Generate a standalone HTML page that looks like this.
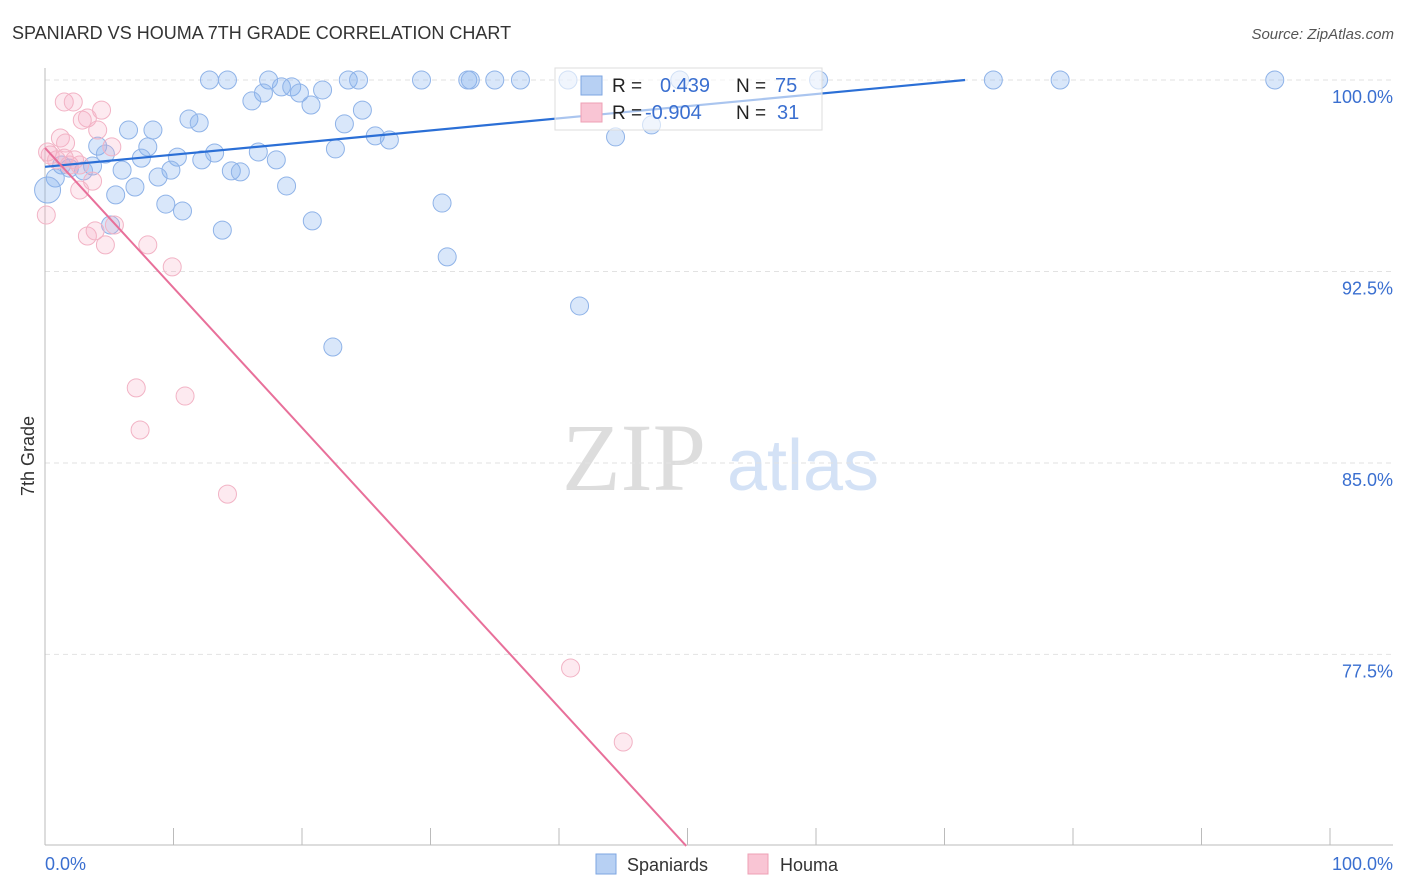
<!DOCTYPE html>
<html><head><meta charset="utf-8"><style>
body{margin:0;background:#fff;font-family:"Liberation Sans",sans-serif}
svg{display:block}
</style></head><body>
<svg id="c" width="1406" height="892">
<text x="12" y="39" font-size="18" fill="#333">SPANIARD VS HOUMA 7TH GRADE CORRELATION CHART</text>
<text x="1394" y="39" font-size="15" fill="#555" text-anchor="end" font-style="italic">Source: ZipAtlas.com</text>
<text x="634" y="490" font-size="96" fill="#ddd" text-anchor="middle" font-family="Liberation Serif,serif">ZIP</text>
<text x="803" y="490" font-size="72" fill="#d4e2f6" text-anchor="middle">atlas</text>
<text transform="translate(34,456) rotate(-90)" font-size="18" fill="#333" text-anchor="middle">7th Grade</text>
<g id="grid"></g><g id="pts"></g><g id="lines"></g>
<g>
<rect x="555" y="68" width="267" height="62" fill="#fff" fill-opacity="0.6" stroke="#ddd"/>
<rect x="581" y="76" width="21" height="19" fill="#b7d0f3" stroke="#7ea6e2"/>
<rect x="581" y="103" width="21" height="19" fill="#f9c5d4" stroke="#eea0b5"/>
<text x="612" y="92" font-size="19" fill="#222">R =</text><text x="660" y="92" font-size="20" fill="#3a6fd0">0.439</text>
<text x="736" y="92" font-size="19" fill="#222">N =</text><text x="775" y="92" font-size="20" fill="#3a6fd0">75</text>
<text x="612" y="119" font-size="19" fill="#222">R =</text><text x="645" y="119" font-size="20" fill="#3a6fd0">-0.904</text>
<text x="736" y="119" font-size="19" fill="#222">N =</text><text x="777" y="119" font-size="20" fill="#3a6fd0">31</text>
</g>
<g>
<rect x="596" y="854" width="20" height="20" fill="#b7d0f3" stroke="#7ea6e2"/>
<text x="627" y="871" font-size="18" fill="#333">Spaniards</text>
<rect x="748" y="854" width="20" height="20" fill="#f9c5d4" stroke="#eea0b5"/>
<text x="780" y="871" font-size="18" fill="#333">Houma</text>
</g>
</svg>
<script>
const blueX=[12.8,14.2,17.4,23.6,24.4,29.3,32.9,33.1,35.0,37.0,40.7,49.4,60.2,73.8,79.0,95.7,18.4,19.2,17.0,19.8,21.6,16.1,20.7,24.7,11.2,12.0,23.3,6.5,8.4,25.7,26.8,44.4,47.2,4.1,8.0,22.6,13.2,16.6,4.7,7.5,10.3,12.2,18.0,6.0,9.8,14.5,15.2,3.7,3.0,1.9,1.3,0.8,8.8,7.0,18.8,5.5,0.2,9.4,10.7,30.9,20.8,5.1,13.8,31.3,41.6,22.4];
const blueY=[100,100,100,100,100,100,100,100,100,100,100,100,100,100,100,100,99.73,99.73,99.49,99.49,99.61,99.18,99.02,98.82,98.47,98.32,98.28,98.04,98.04,97.81,97.65,97.77,98.24,97.41,97.38,97.30,97.14,97.18,97.10,96.94,96.98,96.87,96.87,96.47,96.47,96.44,96.40,96.63,96.44,96.55,96.67,96.16,96.20,95.81,95.85,95.50,95.69,95.14,94.87,95.18,94.48,94.32,94.12,93.07,91.15,89.54];
const pinkX=[1.5,2.2,4.4,2.9,3.3,4.1,1.2,5.2,1.6,0.4,0.2,0.9,1.9,2.7,3.7,2.7,0.1,3.3,3.9,5.4,4.7,8.0,9.9,7.1,10.9,7.4,14.2,40.9,45.0,2.3,1.5];
const pinkY=[99.14,99.14,98.82,98.43,98.51,98.04,97.73,97.38,97.53,97.06,97.18,96.87,96.67,96.67,96.04,95.69,94.71,93.89,94.09,94.32,93.54,93.54,92.68,87.94,87.62,86.29,83.78,76.97,74.07,96.87,96.94];
const blueTrendX=[0,71.6], blueTrendY=[96.6,100];
const pinkTrendX=[0,49.9], pinkTrendY=[97.34,70];
const yTicks=[100,92.5,85,77.5], yTickLabels=["100.0%","92.5%","85.0%","77.5%"];
const sx=v=>45+v*12.85, sy=v=>80+(100-v)*25.53;
const NS="http://www.w3.org/2000/svg";
function mk(t,a,p){const e=document.createElementNS(NS,t);for(const k in a)e.setAttribute(k,a[k]);p.appendChild(e);return e;}
const g=document.getElementById('grid'),pts=document.getElementById('pts'),ln=document.getElementById('lines');
yTicks.forEach((v,i)=>{
 const l=mk('line',{x1:45,x2:1393,y1:sy(v),y2:sy(v),stroke:'#e2e2e2','stroke-dasharray':'5,4'},g);
 
 
 const t=mk('text',{x:1393,y:sy(v)+23,'font-size':18,fill:'#3a6fd0','text-anchor':'end'},g);t.textContent=yTickLabels[i];
 
 
});
const ax=mk('line',{x1:45,x2:45,y1:68,y2:845,stroke:'#bbb'},g);


const bx=mk('line',{x1:45,x2:1393,y1:845,y2:845,stroke:'#bbb'},g);


for(let i=0;i<=10;i++){const t=mk('line',{x1:sx(i*10),x2:sx(i*10),y1:828,y2:845,stroke:'#bbb'},g);
 
 }
const x0=mk('text',{x:45,y:870,'font-size':18,fill:'#3a6fd0'},g);x0.textContent='0.0%';


const x1=mk('text',{x:1393,y:870,'font-size':18,fill:'#3a6fd0','text-anchor':'end'},g);x1.textContent='100.0%';


blueX.forEach((v,i)=>{const c=mk('circle',{cx:sx(v),cy:sy(blueY[i]),r:(i==56?13:9),fill:'rgba(130,175,240,0.3)',stroke:'#8fb3e8','stroke-width':1},pts);
 
 });
pinkX.forEach((v,i)=>{const c=mk('circle',{cx:sx(v),cy:sy(pinkY[i]),r:9,fill:'rgba(248,170,195,0.25)',stroke:'#f2b3c5','stroke-width':1},pts);
 
 });
const bl=mk('polyline',{points:blueTrendX.map((v,i)=>sx(v)+','+sy(blueTrendY[i])).join(' '),fill:'none',stroke:'#2b6fd6','stroke-width':2.2},ln);


const pl=mk('polyline',{points:pinkTrendX.map((v,i)=>sx(v)+','+sy(pinkTrendY[i])).join(' '),fill:'none',stroke:'#e8709a','stroke-width':2},ln);


</script>
</body></html>
